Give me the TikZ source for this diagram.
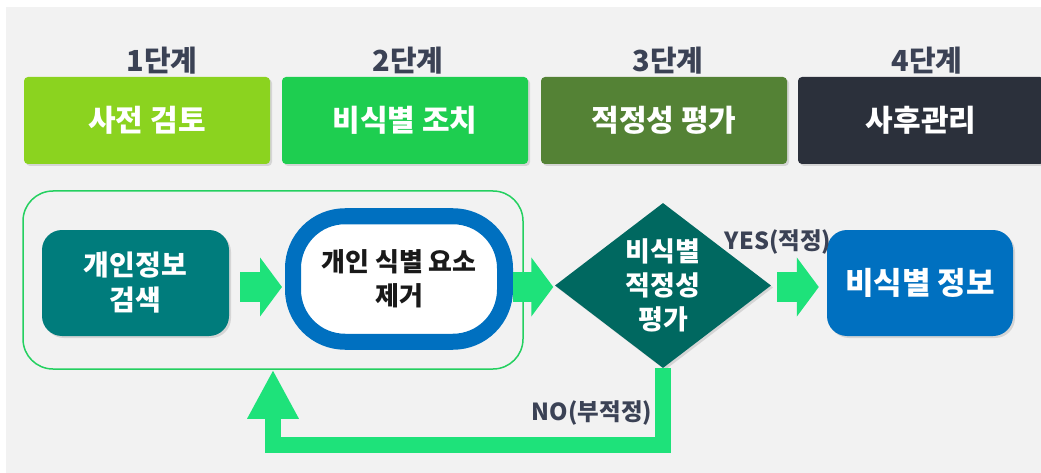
\documentclass[tikz,border=0pt]{standalone}
\usepackage{fontspec}
\setmainfont{Noto Sans CJK KR}
\usetikzlibrary{shapes.geometric,arrows.meta,shadows}
\definecolor{bgc}{RGB}{242,242,242}
\definecolor{lbl}{RGB}{59,66,85}
\definecolor{cA}{RGB}{139,211,31}
\definecolor{cB}{RGB}{30,206,80}
\definecolor{cC}{RGB}{84,130,53}
\definecolor{cD}{RGB}{43,48,59}
\definecolor{tealc}{RGB}{0,124,124}
\definecolor{diac}{RGB}{0,104,96}
\definecolor{bluec}{RGB}{0,112,192}
\definecolor{arrowc}{RGB}{30,226,122}
\definecolor{outc}{RGB}{36,208,96}
\begin{document}
\begin{tikzpicture}[x=1pt,y=-1pt,
  shade/.style={drop shadow={opacity=0.25,shadow xshift=2pt,shadow yshift=-2pt}},
  stagelbl/.style={text=lbl,inner sep=0pt,font=\fontsize{29}{32}\selectfont\bfseries},
  hdr/.style={shade,minimum width=246pt,minimum height=87pt,rounded corners=4pt,inner sep=0pt,text=white,font=\fontsize{30}{34}\selectfont\bfseries},
  grpbox/.style={draw=outc,line width=1.5pt,rounded corners=30pt,minimum width=500pt,minimum height=178pt,inner sep=0pt},
  procbox/.style={shade,rounded corners=20pt,inner sep=0pt,text=white,align=center},
  ringbox/.style={shade,draw=bluec,fill=white,line width=16pt,rounded corners=52pt,minimum width=212pt,minimum height=125.5pt,inner sep=0pt,align=center,text={black!90},font=\fontsize{26}{34}\selectfont\bfseries},
  decision/.style={shade,diamond,aspect=1.31,fill=diac,minimum width=216pt,minimum height=165pt,inner sep=0pt,text=white,align=center,font=\fontsize{27}{34}\selectfont\bfseries},
  branch/.style={text=lbl,inner sep=0pt,font=\fontsize{23.5}{26}\selectfont\bfseries},
  flowarrow/.style={draw=arrowc,line width=30pt,-{Triangle[width=58pt,length=22pt]}},
  fbarrow/.style={draw=arrowc,line width=16.5pt,line join=miter,-{Triangle[width=48pt,length=49pt]}}]
\useasboundingbox (0,0) rectangle (1041,473);
\fill[bgc] (6,7) rectangle (1041,473);
% stage labels
\node[stagelbl] (s1) at (162,61) {1단계};
\node[stagelbl] (s2) at (408,61) {2단계};
\node[stagelbl] (s3) at (668,61) {3단계};
\node[stagelbl] (s4) at (927,61) {4단계};
% header boxes
\node[hdr,fill=cA] (h1) at (147,120.5) {사전 검토};
\node[hdr,fill=cB] (h2) at (405,120.5) {비식별 조치};
\node[hdr,fill=cC] (h3) at (664,120.5) {적정성 평가};
\node[hdr,fill=cD] (h4) at (921,120.5) {사후관리};
% flow
\coordinate (row) at (0,287);
\node[grpbox] (grp) at (273,280) {};
\node[procbox,fill=tealc,minimum width=187pt,minimum height=106pt,font=\fontsize{28}{35}\selectfont\bfseries] (srch) at (135.5,283) {개인정보\\검색};
\node[ringbox] (rm) at (399,279) {개인 식별 요소\\제거};
\node[decision] (dia) at (663,285.5) {비식별\\적정성\\평가};
\node[procbox,fill=bluec,minimum width=186pt,minimum height=106pt,font=\fontsize{31}{36}\selectfont\bfseries] (out) at (920,283) {비식별 정보};
\draw[flowarrow] ([xshift=11pt]srch.east |- row) -- ([xshift=-3pt]rm.west |- row);
\draw[flowarrow] (rm.east |- row) -- ([xshift=-1.5pt]dia.west |- row);
\draw[flowarrow] ([xshift=6pt]dia.east |- row) -- ([xshift=-8pt]out.west |- row);
\draw[fbarrow] (dia.south) -- ++(0,76.75) -| (grp.south);
\node[branch] (yes) at (778,242) {YES(적정)};
\node[branch] (no) at (592,413) {NO(부적정)};
\end{tikzpicture}
\end{document}
